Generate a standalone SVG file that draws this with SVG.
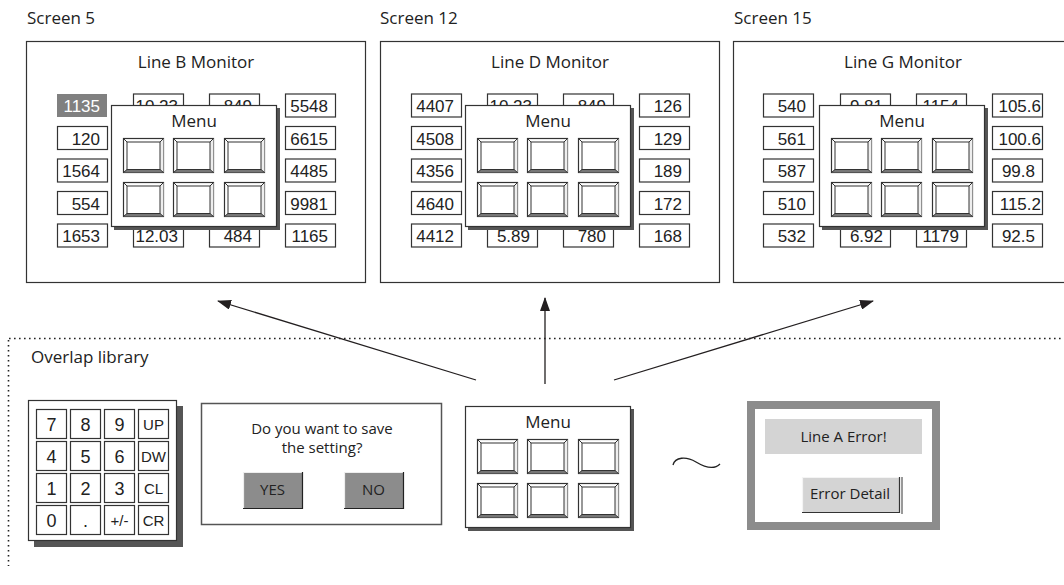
<svg xmlns="http://www.w3.org/2000/svg" xmlns:xlink="http://www.w3.org/1999/xlink" width="1064" height="585" viewBox="0 0 1064 585">
<style>
.lbl{font-family:"Open Sans","Noto Sans",sans-serif;font-size:17px;fill:#222}
.sm{font-family:"Open Sans","Noto Sans",sans-serif;font-size:15px;fill:#222}
.num{font-family:"Liberation Sans",Arial,sans-serif;font-size:17px;fill:#222;text-anchor:end}
.key{font-family:"Liberation Sans",Arial,sans-serif;font-size:18px;fill:#222;text-anchor:middle}
.keys{font-family:"Liberation Sans",Arial,sans-serif;font-size:15px;fill:#222;text-anchor:middle}
.frame{fill:#fff;stroke:#333;stroke-width:1.2}
.box{fill:#fff;stroke:#333;stroke-width:1.2}
.mid{text-anchor:middle}
.conn{stroke:#231f20;stroke-width:1.3;fill:none}
.dot{stroke:#222;stroke-width:1.6;fill:none;stroke-dasharray:1.6 3.4}
</style>
<defs>
<marker id="ah" markerWidth="14" markerHeight="10" refX="13" refY="5" orient="auto" markerUnits="userSpaceOnUse">
<path d="M0,0 L14,5 L0,10 Z" fill="#231f20"/>
</marker>
<g id="btn">
<rect x="0.5" y="0.5" width="40" height="34" fill="#fff" stroke="#333" stroke-width="1.2"/>
<path d="M0.5,34.5 L4,31.5 L37,31.5 L40.5,34.5 Z" fill="#777"/>
<path d="M40.5,0.5 L37,4 L37,31.5 L40.5,34.5 Z" fill="#eee"/>
<rect x="4" y="4" width="33" height="27.5" fill="#fff" stroke="#333" stroke-width="1"/>
<path d="M0.5,0.5 L4,4 M40.5,0.5 L37,4 M0.5,34.5 L4,31.5 M40.5,34.5 L37,31.5" stroke="#333" stroke-width="1"/>
</g>
<g id="menu">
<rect x="3" y="3" width="166" height="122" fill="#555"/>
<rect x="0.5" y="0.5" width="165" height="121" fill="#fff" stroke="#333" stroke-width="1.2"/>
<text x="83" y="22" class="lbl mid">Menu</text>
<use xlink:href="#btn" x="12" y="33"/>
<use xlink:href="#btn" x="62" y="33"/>
<use xlink:href="#btn" x="113" y="33"/>
<use xlink:href="#btn" x="12" y="77"/>
<use xlink:href="#btn" x="62" y="77"/>
<use xlink:href="#btn" x="113" y="77"/>
</g>
</defs>
<rect width="1064" height="585" fill="#fff"/>

<!-- Screen 5 -->
<g id="screen5">
<text x="27" y="24" class="lbl">Screen 5</text>
<rect x="26.5" y="41.5" width="339" height="241" class="frame"/>
<text x="196" y="68" class="lbl mid">Line B Monitor</text>
<rect x="57" y="94" width="50" height="23" fill="#808080"/>
<text x="100" y="112" class="num" style="fill:#fff">1135</text>
<rect x="57.5" y="126.5" width="50" height="23" class="box"/><text x="100" y="144.5" class="num">120</text>
<rect x="57.5" y="159" width="50" height="23" class="box"/><text x="100" y="177" class="num">1564</text>
<rect x="57.5" y="191.5" width="50" height="23" class="box"/><text x="100" y="209.5" class="num">554</text>
<rect x="57.5" y="224" width="50" height="23" class="box"/><text x="100" y="242" class="num">1653</text>
<rect x="133.5" y="94" width="50" height="23" class="box"/><text x="178" y="112" class="num">10.23</text>
<rect x="133.5" y="224" width="50" height="23" class="box"/><text x="178" y="242" class="num">12.03</text>
<rect x="209.5" y="94" width="50" height="23" class="box"/><text x="252" y="112" class="num">849</text>
<rect x="209.5" y="224" width="50" height="23" class="box"/><text x="252" y="242" class="num">484</text>
<rect x="285.5" y="94" width="50" height="23" class="box"/><text x="328" y="112" class="num">5548</text>
<rect x="285.5" y="126.5" width="50" height="23" class="box"/><text x="328" y="144.5" class="num">6615</text>
<rect x="285.5" y="159" width="50" height="23" class="box"/><text x="328" y="177" class="num">4485</text>
<rect x="285.5" y="191.5" width="50" height="23" class="box"/><text x="328" y="209.5" class="num">9981</text>
<rect x="285.5" y="224" width="50" height="23" class="box"/><text x="328" y="242" class="num">1165</text>
<use xlink:href="#menu" x="111" y="105"/>
</g>

<!-- Screen 12 -->
<g id="screen12" transform="translate(354,0)">
<text x="26" y="24" class="lbl">Screen 12</text>
<rect x="26.5" y="41.5" width="339" height="241" class="frame"/>
<text x="196" y="68" class="lbl mid">Line D Monitor</text>
<rect x="57.5" y="94" width="50" height="23" class="box"/><text x="100" y="112" class="num">4407</text>
<rect x="57.5" y="126.5" width="50" height="23" class="box"/><text x="100" y="144.5" class="num">4508</text>
<rect x="57.5" y="159" width="50" height="23" class="box"/><text x="100" y="177" class="num">4356</text>
<rect x="57.5" y="191.5" width="50" height="23" class="box"/><text x="100" y="209.5" class="num">4640</text>
<rect x="57.5" y="224" width="50" height="23" class="box"/><text x="100" y="242" class="num">4412</text>
<rect x="133.5" y="94" width="50" height="23" class="box"/><text x="178" y="112" class="num">10.23</text>
<rect x="133.5" y="224" width="50" height="23" class="box"/><text x="176" y="242" class="num">5.89</text>
<rect x="209.5" y="94" width="50" height="23" class="box"/><text x="252" y="112" class="num">849</text>
<rect x="209.5" y="224" width="50" height="23" class="box"/><text x="252" y="242" class="num">780</text>
<rect x="285.5" y="94" width="50" height="23" class="box"/><text x="328" y="112" class="num">126</text>
<rect x="285.5" y="126.5" width="50" height="23" class="box"/><text x="328" y="144.5" class="num">129</text>
<rect x="285.5" y="159" width="50" height="23" class="box"/><text x="328" y="177" class="num">189</text>
<rect x="285.5" y="191.5" width="50" height="23" class="box"/><text x="328" y="209.5" class="num">172</text>
<rect x="285.5" y="224" width="50" height="23" class="box"/><text x="328" y="242" class="num">168</text>
<use xlink:href="#menu" x="111" y="105"/>
</g>

<!-- Screen 15 -->
<g id="screen15" transform="translate(707,0)">
<text x="27" y="24" class="lbl">Screen 15</text>
<rect x="26.5" y="41.5" width="345" height="241" class="frame"/>
<text x="196" y="68" class="lbl mid">Line G Monitor</text>
<rect x="56.5" y="94" width="50" height="23" class="box"/><text x="99" y="112" class="num">540</text>
<rect x="56.5" y="126.5" width="50" height="23" class="box"/><text x="99" y="144.5" class="num">561</text>
<rect x="56.5" y="159" width="50" height="23" class="box"/><text x="99" y="177" class="num">587</text>
<rect x="56.5" y="191.5" width="50" height="23" class="box"/><text x="99" y="209.5" class="num">510</text>
<rect x="56.5" y="224" width="50" height="23" class="box"/><text x="99" y="242" class="num">532</text>
<rect x="133.5" y="94" width="50" height="23" class="box"/><text x="176" y="112" class="num">9.81</text>
<rect x="133.5" y="224" width="50" height="23" class="box"/><text x="176" y="242" class="num">6.92</text>
<rect x="209.5" y="94" width="50" height="23" class="box"/><text x="252" y="112" class="num">1154</text>
<rect x="209.5" y="224" width="50" height="23" class="box"/><text x="252" y="242" class="num">1179</text>
<rect x="285.5" y="94" width="50" height="23" class="box"/><text x="334" y="112" class="num">105.6</text>
<rect x="285.5" y="126.5" width="50" height="23" class="box"/><text x="334" y="144.5" class="num">100.6</text>
<rect x="285.5" y="159" width="50" height="23" class="box"/><text x="328" y="177" class="num">99.8</text>
<rect x="285.5" y="191.5" width="50" height="23" class="box"/><text x="334" y="209.5" class="num">115.2</text>
<rect x="285.5" y="224" width="50" height="23" class="box"/><text x="328" y="242" class="num">92.5</text>
<use xlink:href="#menu" x="112" y="105"/>
</g>

<!-- Overlap library region -->
<g id="library">
<path d="M9,338.5 H1064 M8.5,340 V566" class="dot"/>
<text x="31" y="363" class="lbl">Overlap library</text>
</g>

<!-- Keypad -->
<g id="keypad">
<rect x="34" y="406" width="149" height="141" fill="#555"/>
<rect x="28.5" y="400.5" width="148" height="140" class="box"/>
<rect x="36.5" y="409.5" width="30" height="29" class="box"/><text x="51.5" y="431" class="key">7</text>
<rect x="70.5" y="409.5" width="30" height="29" class="box"/><text x="85.5" y="431" class="key">8</text>
<rect x="104.5" y="409.5" width="30" height="29" class="box"/><text x="119.5" y="431" class="key">9</text>
<rect x="138.5" y="409.5" width="30" height="29" class="box"/><text x="153.5" y="430" class="keys">UP</text>
<rect x="36.5" y="441.5" width="30" height="29" class="box"/><text x="51.5" y="463" class="key">4</text>
<rect x="70.5" y="441.5" width="30" height="29" class="box"/><text x="85.5" y="463" class="key">5</text>
<rect x="104.5" y="441.5" width="30" height="29" class="box"/><text x="119.5" y="463" class="key">6</text>
<rect x="138.5" y="441.5" width="30" height="29" class="box"/><text x="153.5" y="462" class="keys">DW</text>
<rect x="36.5" y="473.5" width="30" height="29" class="box"/><text x="51.5" y="495" class="key">1</text>
<rect x="70.5" y="473.5" width="30" height="29" class="box"/><text x="85.5" y="495" class="key">2</text>
<rect x="104.5" y="473.5" width="30" height="29" class="box"/><text x="119.5" y="495" class="key">3</text>
<rect x="138.5" y="473.5" width="30" height="29" class="box"/><text x="153.5" y="494" class="keys">CL</text>
<rect x="36.5" y="505.5" width="30" height="29" class="box"/><text x="51.5" y="527" class="key">0</text>
<rect x="70.5" y="505.5" width="30" height="29" class="box"/><text x="85.5" y="527" class="key">.</text>
<rect x="104.5" y="505.5" width="30" height="29" class="box"/><text x="119.5" y="526" class="keys">+/-</text>
<rect x="138.5" y="505.5" width="30" height="29" class="box"/><text x="153.5" y="526" class="keys">CR</text>
</g>

<!-- Dialog -->
<g id="dialog">
<rect x="201.5" y="403.5" width="240" height="121" fill="#fff" stroke="#555" stroke-width="1.5"/>
<text x="322" y="434" class="sm mid">Do you want to save</text>
<text x="322" y="453" class="sm mid">the setting?</text>
<rect x="243" y="472" width="59" height="36" fill="#8c8c8c"/>
<path d="M243.5,508 V472.5 H302" stroke="#eee" stroke-width="1.2" fill="none"/>
<path d="M302.5,472 V508.5 H243" stroke="#222" stroke-width="1.2" fill="none"/>
<text x="272.5" y="495" class="sm mid">YES</text>
<rect x="344" y="472" width="59" height="36" fill="#8c8c8c"/>
<path d="M344.5,508 V472.5 H403" stroke="#eee" stroke-width="1.2" fill="none"/>
<path d="M403.5,472 V508.5 H344" stroke="#222" stroke-width="1.2" fill="none"/>
<text x="373.5" y="495" class="sm mid">NO</text>
</g>

<!-- Menu in library -->
<g id="menuLib">
<use xlink:href="#menu" x="465" y="406"/>
</g>

<!-- Tilde -->
<g id="tilde">
<path d="M673,465 C675,457 686,456 696,462 C706,468 714,470 720,464" stroke="#222" stroke-width="1.3" fill="none"/>
</g>

<!-- Error panel -->
<g id="errorPanel">
<rect x="751" y="405" width="185" height="121" fill="#fff" stroke="#8c8c8c" stroke-width="8"/>
<rect x="765" y="419" width="157" height="35" fill="#d4d4d4"/>
<text x="843.5" y="442" class="sm mid">Line A Error!</text>
<rect x="802" y="477" width="97" height="35" fill="#d4d4d4"/>
<path d="M802.5,512 V477.5 H899" stroke="#f4f4f4" stroke-width="1.2" fill="none"/>
<path d="M899.5,477 V512.5 H802" stroke="#333" stroke-width="1.2" fill="none"/>
<path d="M902,477 V514" stroke="#555" stroke-width="1.2"/>
<text x="850" y="499" class="sm mid">Error Detail</text>
</g>

<!-- Connectors -->
<g id="connectors">
<line x1="476" y1="380" x2="218" y2="301" class="conn" marker-end="url(#ah)"/>
<line x1="545" y1="384" x2="545" y2="298" class="conn" marker-end="url(#ah)"/>
<line x1="614" y1="380" x2="873" y2="301" class="conn" marker-end="url(#ah)"/>
</g>
</svg>
